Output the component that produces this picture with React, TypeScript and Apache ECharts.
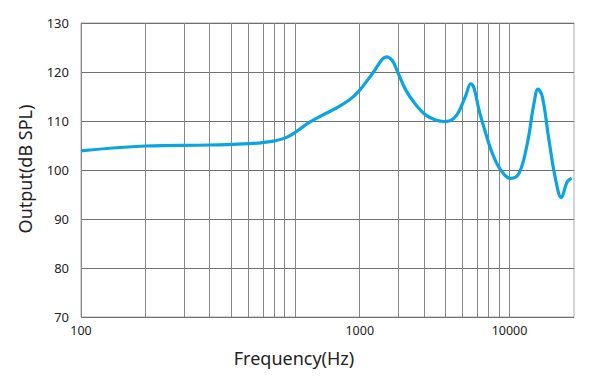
import React, { useEffect, useRef } from "react";
import * as echarts from "echarts";

// Frequency response (Hz, dB SPL)
const freqs = [
  100, 200, 400, 610, 704, 813, 905, 1008, 1162, 1341, 1548, 1785, 1973, 2293,
  2553, 2665, 2842, 2999, 3282, 3653, 4068, 4529, 4950, 5224, 5512, 5816, 6249,
  6595, 6833, 7208, 7745, 8314, 9099, 10130, 11074, 12106, 13011, 13581, 14224,
  15283, 16428, 17440, 18600, 19500,
];
const spl = [
  103.9, 104.9, 105.1, 105.4, 105.6, 106.0, 106.6, 107.8, 109.7, 111.2, 112.6,
  114.3, 116.0, 119.7, 122.65, 123.1, 122.3, 120.1, 116.3, 113.3, 111.2, 110.2,
  109.9, 110.0, 110.6, 112.0, 115.2, 117.6, 116.7, 112.2, 107.5, 103.4, 100.0,
  98.3, 99.3, 105.4, 113.6, 116.5, 115.0, 106.1, 98.0, 94.4, 97.6, 98.3,
];

const xMinFreq = 100;
const xMaxFreq = 20000;
const gridFreqs = [
  200, 300, 400, 500, 600, 700, 800, 900, 1000, 2000, 3000, 4000, 5000, 6000,
  7000, 8000, 9000, 10000,
];
// tick labels and the frequencies where the reference draws them
const xLabelTexts = ["100", "1000", "10000"];
const xLabelFreqs = [100, 2000, 10000];

const yMin = 70;
const yMax = 130;
const yStep = 10;

export default function App() {
  const ref = useRef<HTMLDivElement>(null);
  useEffect(() => {
    if (!ref.current) return;
    const chart = echarts.init(ref.current, null, { renderer: "svg" });
    const font = "'Noto Sans', sans-serif";
    const labelPos = xLabelFreqs.map((f) => Math.log10(f));
    chart.setOption({
      animation: false,
      grid: {
        left: 81,
        right: 27,
        top: 23,
        bottom: 72,
        show: true,
        borderColor: "#aaaaaa",
        borderWidth: 1,
      },
      xAxis: {
        type: "value",
        min: Math.log10(xMinFreq),
        max: Math.log10(xMaxFreq),
        axisLine: { show: false },
        axisTick: { show: false },
        splitLine: { show: false },
        axisLabel: {
          customValues: labelPos,
          margin: 7,
          fontSize: 12.5,
          color: "#222",
          fontFamily: font,
          formatter: (v: number) => {
            let best = 0;
            labelPos.forEach((p, i) => {
              if (Math.abs(p - v) < Math.abs(labelPos[best] - v)) best = i;
            });
            return xLabelTexts[best];
          },
        },
      },
      yAxis: {
        type: "value",
        min: yMin,
        max: yMax,
        interval: yStep,
        axisLine: { show: true, lineStyle: { color: "#888" } },
        axisTick: { show: false },
        splitLine: { show: true, lineStyle: { color: "#707070", width: 1 } },
        axisLabel: {
          margin: 12,
          fontSize: 13,
          color: "#222",
          fontFamily: font,
        },
      },
      series: [
        {
          type: "line",
          data: [],
          z: 1,
          silent: true,
          markLine: {
            silent: true,
            symbol: ["none", "none"],
            label: { show: false },
            lineStyle: { color: "#868686", width: 1, type: "solid" },
            data: gridFreqs.map((f) => ({ xAxis: Math.log10(f) })),
          },
        },
        {
          type: "line",
          z: 5,
          smooth: 0.4,
          showSymbol: false,
          lineStyle: { color: "#0aa5df", width: 3.2 },
          data: freqs.map((f, i) => [Math.log10(f), spl[i]]),
        },
      ],
      graphic: [
        {
          type: "text",
          x: 294,
          y: 358,
          style: {
            text: "Frequency(Hz)",
            fontSize: 18,
            fontFamily: font,
            fill: "#222",
            align: "center",
            verticalAlign: "middle",
          },
        },
        {
          type: "text",
          x: 25,
          y: 169,
          rotation: Math.PI / 2,
          style: {
            text: "Output(dB SPL)",
            fontSize: 18,
            fontFamily: font,
            fill: "#222",
            align: "center",
            verticalAlign: "middle",
          },
        },
      ],
    });
    return () => chart.dispose();
  }, []);
  return <div ref={ref} style={{ width: 601, height: 389, position: "absolute", left: 0, top: 0 }} />;
}
